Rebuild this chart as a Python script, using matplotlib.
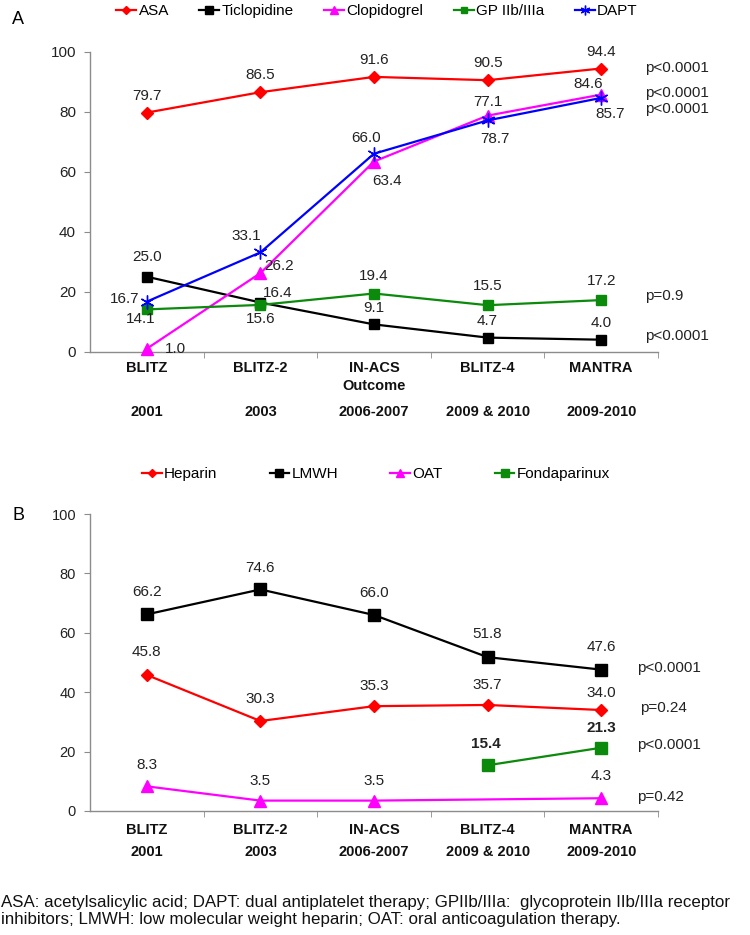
import numpy as np
import matplotlib
matplotlib.use("Agg")
import matplotlib.pyplot as plt
from matplotlib.transforms import blended_transform_factory

plt.rcParams['font.family'] = ['Liberation Sans', 'DejaVu Sans']

# ---------------- data ----------------
studies_A = ["BLITZ", "BLITZ-2", "IN-ACS\nOutcome", "BLITZ-4", "MANTRA"]
studies_B = ["BLITZ", "BLITZ-2", "IN-ACS", "BLITZ-4", "MANTRA"]
years = ["2001", "2003", "2006-2007", "2009 & 2010", "2009-2010"]

asa = [79.7, 86.5, 91.6, 90.5, 94.4]
ticlopidine = [25.0, 16.4, 9.1, 4.7, 4.0]
clopidogrel = [1.0, 26.2, 63.4, 78.7, 85.7]
gp2b3a = [14.1, 15.6, 19.4, 15.5, 17.2]
dapt = [16.7, 33.1, 66.0, 77.1, 84.6]
pvals_A = ["p<0.0001", "p<0.0001", "p<0.0001", "p=0.9", "p<0.0001"]
pvals_A_y = [94.6, 86.2, 80.9, 18.6, 5.2]

heparin = [45.8, 30.3, 35.3, 35.7, 34.0]
lmwh = [66.2, 74.6, 66.0, 51.8, 47.6]
oat = [8.3, 3.5, 3.5, np.nan, 4.3]
fondaparinux = [np.nan, np.nan, np.nan, 15.4, 21.3]
pvals_B = ["p<0.0001", "p=0.24", "p<0.0001", "p=0.42"]
pvals_B_y = [48.1, 34.7, 22.2, 4.7]
pvals_B_x = [4.315, 4.34, 4.315, 4.315]

footnote = ("ASA: acetylsalicylic acid; DAPT: dual antiplatelet therapy; GPIIb/IIIa:  glycoprotein IIb/IIIa receptor\n"
            "inhibitors; LMWH: low molecular weight heparin; OAT: oral anticoagulation therapy.")

# label offsets in pixels (dx, dy)
off_asa = [(0, 17)] * 5
off_tic = [(0, 20), (17, 10), (0, 16), (0, 17), (0, 17)]
off_clo = [(29, 0), (19, 7), (13, -19), (7, -23), (9, -19)]
off_gp = [(-6, -10), (0, -14), (0, 18), (0, 19), (0, 19)]
off_dapt = [(-22, 3), (-14, 16), (-8, 16), (0, 18), (-13, 14)]

off_hep = [(0, 23), (0, 22), (0, 20), (0, 20), (0, 17)]
off_lmwh = [(0, 22), (0, 21), (0, 22), (0, 23), (0, 23)]
off_oat = [(0, 21), (0, 20), (0, 20), (0, 20), (0, 22)]
off_fon = [(0, 21), (0, 21), (0, 21), (-2, 21), (0, 20)]

W, H = 750, 935
fig = plt.figure(figsize=(W / 100, H / 100), dpi=100)
axA = fig.add_axes([90 / W, 1 - 351.7 / H, 568 / W, 300 / H])
axB = fig.add_axes([90 / W, 1 - 811 / H, 568 / W, 297 / H])

RED, BLACK, MAG, GREEN, BLUE = "#ff0000", "#000000", "#ff00ff", "#0b8a0b", "#0000ff"
GRAY = "#8c8c8c"
x = np.arange(5)


def style_axes(ax, tick_fs):
    ax.set_xlim(-0.5, 4.5)
    ax.set_ylim(0, 100)
    ax.set_yticks([0, 20, 40, 60, 80, 100])
    for s in ["top", "right"]:
        ax.spines[s].set_visible(False)
    for s in ["left", "bottom"]:
        ax.spines[s].set_color(GRAY)
        ax.spines[s].set_linewidth(1.0)
    ax.set_xticks(x)
    ax.set_xticklabels([])
    ax.tick_params(axis="x", which="major", length=0)
    ax.set_xticks(np.arange(0.5, 4.6, 1.0), minor=True)
    ax.tick_params(axis="x", which="minor", length=4, color=GRAY, direction="out")
    ax.tick_params(axis="y", length=4, color=GRAY, direction="out", pad=6,
                   labelsize=tick_fs, labelcolor="#222222")


def plot_series(ax, vals, color, marker, ms, label, offs, bold=False, fs=11):
    v = np.array(vals, dtype=float)
    m = ~np.isnan(v)
    line, = ax.plot(x[m], v[m], color=color, lw=1.6, marker=marker, ms=ms,
                    mec=color, mfc=color, label=label, clip_on=False, zorder=3)
    for xi, vi, (dx, dy) in zip(x, v, offs):
        if np.isnan(vi):
            continue
        ax.annotate(f"{vi:.1f}", (xi, vi), xytext=(dx, dy), textcoords="offset pixels",
                    ha="center", va="center", fontsize=fs, color="#222222",
                    fontweight="bold" if bold else "normal")
    return line


style_axes(axA, 11)
style_axes(axB, 10.5)

ast = (6, 2, 0)
hA = [
    plot_series(axA, asa, RED, "D", 6.5, "ASA", off_asa),
    plot_series(axA, ticlopidine, BLACK, "s", 7.5, "Ticlopidine", off_tic),
    plot_series(axA, clopidogrel, MAG, "^", 8.5, "Clopidogrel", off_clo),
    plot_series(axA, gp2b3a, GREEN, "s", 7, "GP IIb/IIIa", off_gp),
    plot_series(axA, dapt, BLUE, ast, 10, "DAPT", off_dapt),
]
hB = [
    plot_series(axB, heparin, RED, "D", 6.5, "Heparin", off_hep),
    plot_series(axB, lmwh, BLACK, "s", 8, "LMWH", off_lmwh),
    plot_series(axB, oat, MAG, "^", 8.5, "OAT", off_oat),
    plot_series(axB, fondaparinux, GREEN, "s", 8, "Fondaparinux", off_fon, bold=True),
]

for t, yv in zip(pvals_A, pvals_A_y):
    axA.text(4.385, yv, t, ha="left", va="center", fontsize=11, color="#222222", clip_on=False)
for t, xv, yv in zip(pvals_B, pvals_B_x, pvals_B_y):
    axB.text(xv, yv, t, ha="left", va="center", fontsize=11, color="#222222", clip_on=False)

# category labels
trA = blended_transform_factory(axA.transData, fig.transFigure)
trB = blended_transform_factory(axB.transData, fig.transFigure)
for i, (s, yr) in enumerate(zip(studies_A, years)):
    axA.text(i, 1 - 361 / H, s, transform=trA, ha="center", va="top", fontsize=10.5,
             fontweight="bold", color="#111111", linespacing=1.35)
    axA.text(i, 1 - 412 / H, yr, transform=trA, ha="center", va="center", fontsize=10.5,
             fontweight="bold", color="#111111")
for i, (s, yr) in enumerate(zip(studies_B, years)):
    axB.text(i, 1 - 830 / H, s, transform=trB, ha="center", va="center", fontsize=10.5,
             fontweight="bold", color="#111111")
    axB.text(i, 1 - 852 / H, yr, transform=trB, ha="center", va="center", fontsize=10.5,
             fontweight="bold", color="#111111")

fig.text(12 / W, 1 - 19 / H, "A", fontsize=13, ha="left", va="center")
fig.text(12 / W, 1 - 515 / H, "B", fontsize=13, ha="left", va="center")

fig.legend(handles=hA, loc="center", bbox_to_anchor=(377 / W, 1 - 11 / H), ncol=5,
           frameon=False, fontsize=11, handlelength=1.3, handletextpad=0.15,
           columnspacing=2.0, markerscale=0.7, borderaxespad=0)
fig.legend(handles=hB, loc="center", bbox_to_anchor=(376 / W, 1 - 474 / H), ncol=4,
           frameon=False, fontsize=11, handlelength=1.3, handletextpad=0.15,
           columnspacing=3.4, markerscale=0.7, borderaxespad=0)

fig.text(1 / W, 1 - 911 / H, footnote, fontsize=12.2, ha="left", va="center",
         color="#111111", linespacing=1.1)

fig.savefig("out.png", dpi=100)
